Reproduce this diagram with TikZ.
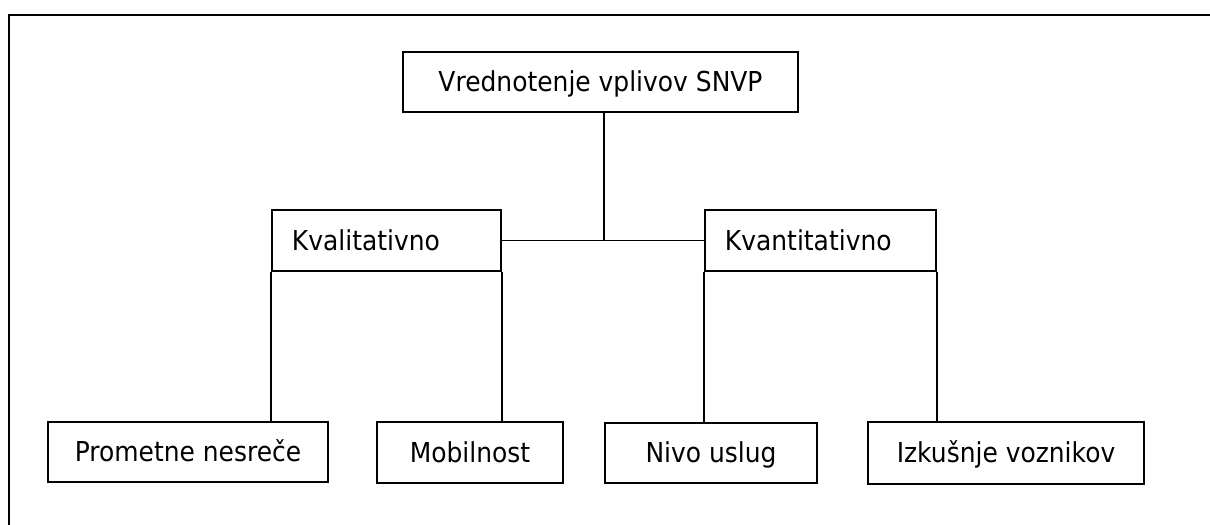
\documentclass[tikz,border=0pt]{standalone}
\usepackage{fontspec}
\setmainfont{DejaVu Sans}[FakeStretch=0.91]
\usepackage{tikz}
\usetikzlibrary{positioning}

\begin{document}
\begin{tikzpicture}[x=0.025cm,y=-0.025cm,
      box/.style={draw,line width=1.6pt,minimum height=1.5cm,inner sep=0pt,
        text height=16pt,text depth=1.8pt,
        font=\fontsize{19.5}{23}\selectfont},
      lbox/.style={box,align=left,inner xsep=0.5cm,minimum height=1.525cm},
      conn/.style={line width=1pt}]
    \useasboundingbox (0,0) rectangle (1210,525);
    \begin{scope}
      \clip (0,0) rectangle (1210,525);
      \draw[line width=1.6pt] (9,15) rectangle (1240,560);
    \end{scope}
    \node[box,minimum width=9.875cm] (eval) at (600.5,82) {Vrednotenje vplivov SNVP};
    \node[lbox,text width=4.725cm] (kval) at (386.5,240.5) {Kvalitativno};
    \node[lbox,text width=4.775cm] (kvan) at (820.5,240.5) {Kvantitativno};
    \node[box,minimum width=7cm] (prom) at (188,452) {Prometne nesreče};
    \node[box,minimum width=4.65cm,minimum height=1.525cm] (mob) at (470,452.5) {Mobilnost};
    \node[box,minimum width=5.3cm] (nivo) at (711,453) {Nivo uslug};
    \node[box,minimum width=6.9cm,minimum height=1.55cm] (izk) at (1006,453) {Izkušnje voznikov};
    \draw[conn] (kval.east) -- (kvan.west);
    \draw[conn] ([xshift=0.09cm]eval.south) -- ([xshift=0.09cm]eval.south |- kval.east);
    \draw[conn] (kval.south west) -- (kval.south west |- prom.north);
    \draw[conn] (kval.south east) -- (kval.south east |- mob.north);
    \draw[conn] (kvan.south west) -- (kvan.south west |- nivo.north);
    \draw[conn] (kvan.south east) -- (kvan.south east |- izk.north);
  \end{tikzpicture}
\end{document}
